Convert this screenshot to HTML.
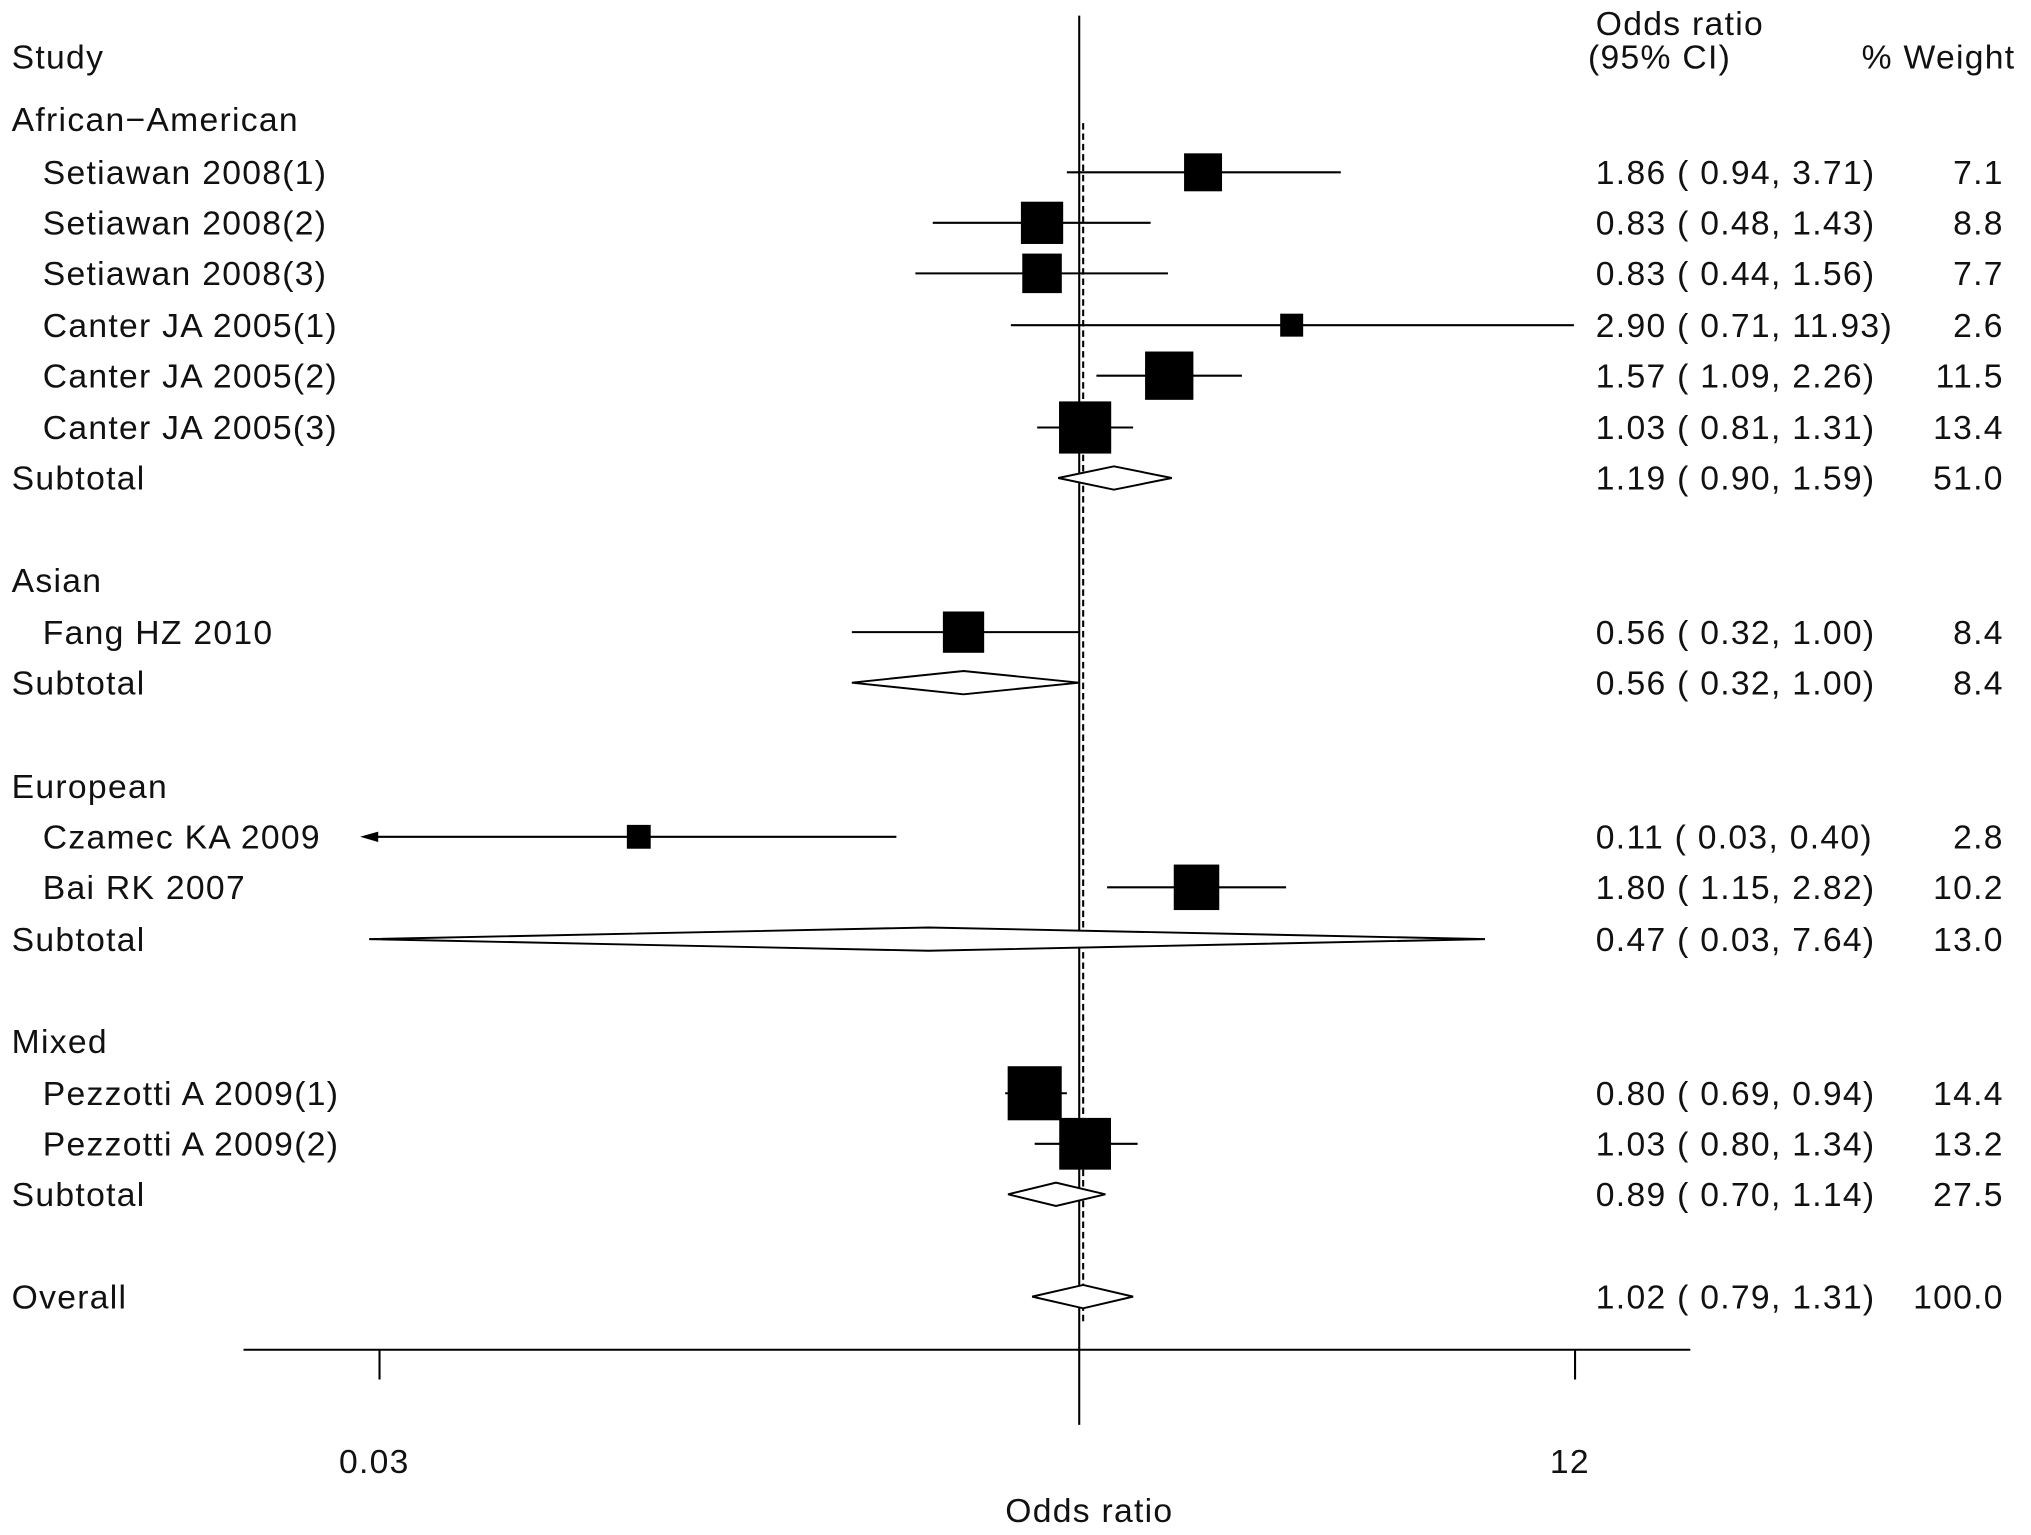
<!DOCTYPE html>
<html><head><meta charset="utf-8"><style>
html,body{margin:0;padding:0;background:#fff}
svg{display:block}
text{font-family:"Liberation Sans",Arial,sans-serif;font-size:26px;letter-spacing:1px;fill:#111}
</style></head><body>
<svg id="chart" xmlns="http://www.w3.org/2000/svg" width="2031" height="1535" viewBox="0 0 1568 1185">
<g id="g"></g>
</svg>
<script>
const labels = ["African\u2212American","Setiawan 2008(1)","Setiawan 2008(2)","Setiawan 2008(3)","Canter JA 2005(1)","Canter JA 2005(2)","Canter JA 2005(3)","Subtotal","Asian","Fang HZ 2010","Subtotal","European","Czamec KA 2009","Bai RK 2007","Subtotal","Mixed","Pezzotti A 2009(1)","Pezzotti A 2009(2)","Subtotal","Overall"];
const kinds  = ["h","s","s","s","s","s","s","d","h","s","d","h","s","s","d","h","s","s","d","d"];
const rowY   = [92,133,172,211,251,290,330,369,448,488,527,607,646,685,725,804,844,883,922,1001];
const est    = [null,1.86,0.83,0.83,2.90,1.57,1.03,1.19,null,0.56,0.56,null,0.11,1.80,0.47,null,0.80,1.03,0.89,1.02];
const lower  = [null,0.94,0.48,0.44,0.71,1.09,0.81,0.90,null,0.32,0.32,null,0.03,1.15,0.03,null,0.69,0.80,0.70,0.79];
const upper  = [null,3.71,1.43,1.56,11.93,2.26,1.31,1.59,null,1.00,1.00,null,0.40,2.82,7.64,null,0.94,1.34,1.14,1.31];
const weight = [null,7.1,8.8,7.7,2.6,11.5,13.4,51.0,null,8.4,8.4,null,2.8,10.2,13.0,null,14.4,13.2,27.5,100.0];
const tickVals = [0.03,12];
const tickLabels = ["0.03","12"];
const overallEst = 1.02;

const NS="http://www.w3.org/2000/svg", g=document.getElementById('g');
const x0=293, x1=1216, lmin=Math.log(0.03), lmax=Math.log(12);
const xs=v=>x0+(Math.log(v)-lmin)/(lmax-lmin)*(x1-x0);
function el(t,a,txt){const e=document.createElementNS(NS,t);for(const k in a)e.setAttribute(k,a[k]);if(txt!=null)e.textContent=txt;g.appendChild(e);return e;}
const f=v=>v.toFixed(2);

let e;
e=el('text',{x:9,y:53},'Study');


e=el('text',{x:1232,y:27},'Odds ratio');


e=el('text',{x:1226,y:53},'(95% CI)');


e=el('text',{x:1556,y:53,'text-anchor':'end'},'% Weight');



e=el('line',{x1:xs(1),x2:xs(1),y1:12,y2:1100,stroke:'#000','stroke-width':1.6});


e=el('line',{x1:xs(overallEst),x2:xs(overallEst),y1:95,y2:1020,stroke:'#000','stroke-width':1.6,'stroke-dasharray':'5,3'});



labels.forEach((lab,i)=>{
  const y=rowY[i], k=kinds[i];
  const t=el('text',{x:k==='s'?33:9,y:y+9},lab);
  
  
  if(k==='h')return;
  let lo=xs(lower[i]), hi=xs(upper[i]), cx=xs(est[i]);
  if(k==='s'){
    let clip=lower[i]<=0.03;
    const l=el('line',{x1:clip?282:lo,x2:Math.min(hi,1217),y1:y,y2:y,stroke:'#000','stroke-width':1.6});
    
    
    if(clip){const a=el('polygon',{points:`278,${y} 292,${y-4} 292,${y+4}`,fill:'#000'});
      
      }
    const s=11*Math.sqrt(weight[i]);
    const r=el('rect',{x:cx-s/2,y:y-s/2,width:s,height:s,fill:'#000'});
    
    
  } else {
    if(lower[i]<=0.03)lo=285;
    const d=el('polygon',{points:`${lo},${y} ${cx},${y-9} ${hi},${y} ${cx},${y+9}`,fill:'#fff',stroke:'#000','stroke-width':1.5});
    
    
  }
  const o=el('text',{x:1232,y:y+9},`${f(est[i])} ( ${f(lower[i])}, ${f(upper[i])})`);
  
  
  const w=el('text',{x:1547,y:y+9,'text-anchor':'end'},weight[i].toFixed(1));
  
  
});

e=el('line',{x1:188,x2:1305,y1:1042,y2:1042,stroke:'#000','stroke-width':1.6});


tickVals.forEach((v,i)=>{
  const t=el('line',{x1:xs(v),x2:xs(v),y1:1042,y2:1065,stroke:'#000','stroke-width':1.6});
  
  
  const l=el('text',{x:xs(v)-4,y:1137,'text-anchor':'middle'},tickLabels[i]);
  
  
});
e=el('text',{x:841,y:1175,'text-anchor':'middle'},'Odds ratio');


</script>
</body></html>
